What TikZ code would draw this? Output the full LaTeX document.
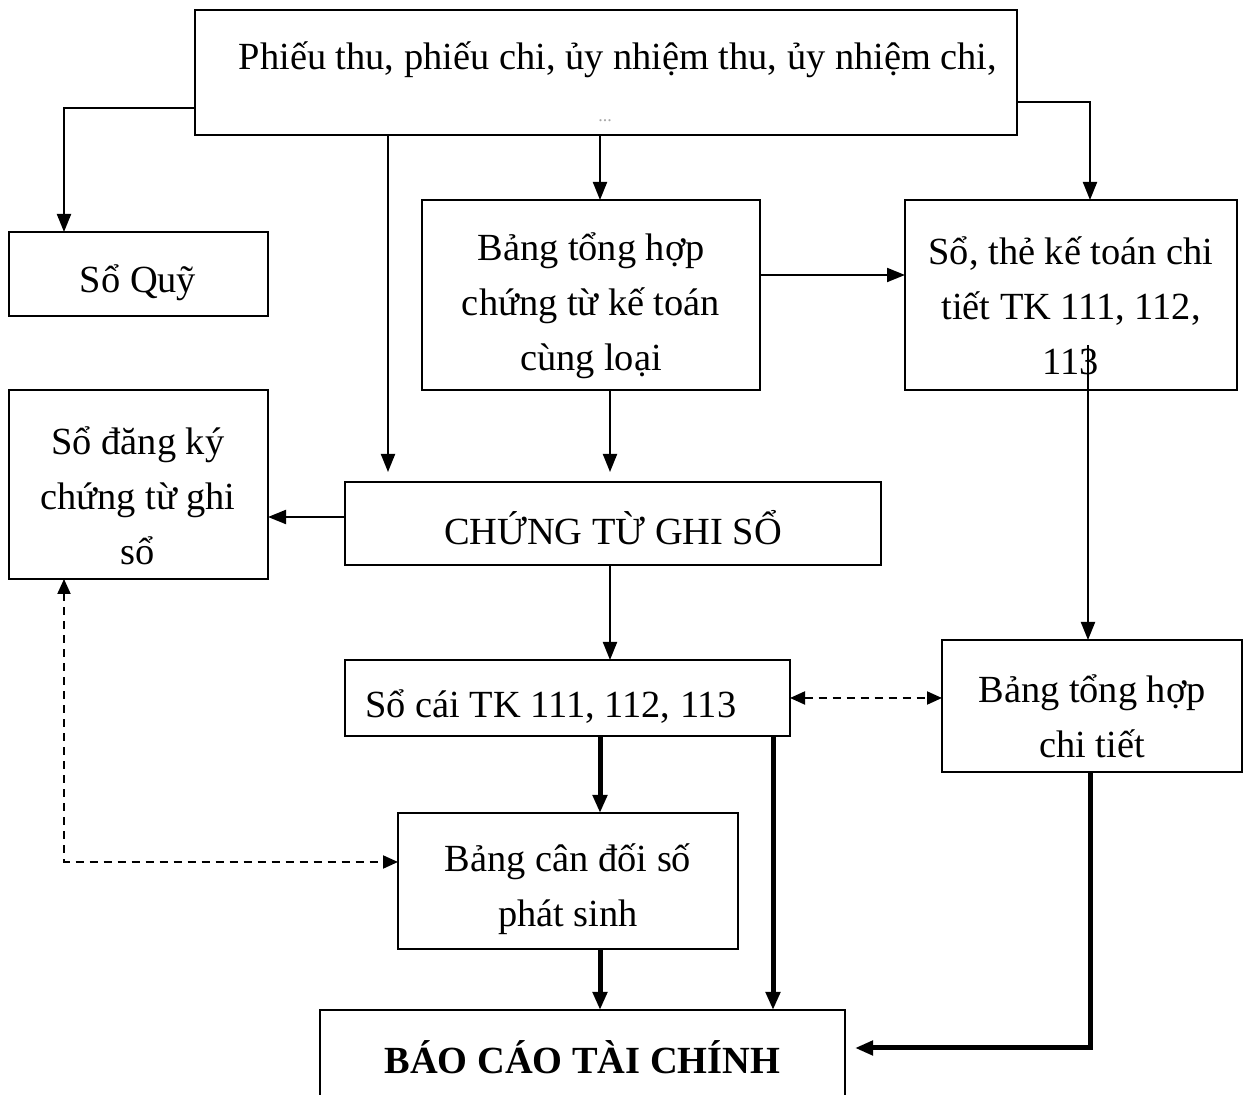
\documentclass[tikz,border=0pt]{standalone}
\usepackage{fontspec}
\setmainfont{Liberation Serif}
\usetikzlibrary{arrows.meta}
\begin{document}
\begin{tikzpicture}[x=0.5pt,y=-0.5pt,
  box/.style={draw, line width=1pt, inner sep=0pt, outer sep=0pt},
  txt/.style={font=\fontsize{19.2}{27.5}\selectfont, align=center, inner sep=0pt},
  arr/.style={line width=1pt, -{Triangle[length=9pt,width=7pt]}},
  barr/.style={line width=2.5pt, -{Triangle[length=9pt,width=7pt]}},
  darr/.style={line width=1pt, dash pattern=on 4pt off 3pt,
    {Triangle[length=7.5pt,width=6.5pt]}-{Triangle[length=7.5pt,width=6.5pt]}}
]
\path[use as bounding box, clip] (0,0) rectangle (1244,1095);

% boxes
\node[box, minimum width=411pt, minimum height=62.5pt] (top) at (606,72.5) {};
\node[box, minimum width=129.5pt, minimum height=42pt] (quy) at (138.5,274) {};
\node[box, minimum width=169pt, minimum height=95pt] (bth) at (591,295) {};
\node[box, minimum width=166pt, minimum height=95pt] (sthe) at (1071,295) {};
\node[box, minimum width=129.5pt, minimum height=94.5pt] (sdk) at (138.5,484.5) {};
\node[box, minimum width=268pt, minimum height=41.5pt] (ctgs) at (613,523.5) {};
\node[box, minimum width=222.5pt, minimum height=38pt] (scai) at (567.5,698) {};
\node[box, minimum width=150pt, minimum height=66pt] (bthct) at (1092,706) {};
\node[box, minimum width=170pt, minimum height=68pt] (bcd) at (568,881) {};
\node[box, minimum width=262.5pt, minimum height=55pt] (bctc) at (582.5,1065) {};

% texts
\node[txt] (ttop) at (618,60) {Phiếu thu, phiếu chi, ủy nhiệm thu, ủy nhiệm chi,};
\node[font=\fontsize{9}{9}\selectfont, text=black!35, inner sep=0pt] (dots) at (605,121) {...};
\node[txt] (tquy) at (138,283) {Sổ Quỹ};
\node[txt] (tbth) at (591,306) {Bảng tổng hợp\\chứng từ kế toán\\cùng loại};
\node[txt] (tsthe) at (1071,306) {Sổ, thẻ kế toán chi\\tiết TK 111, 112,\\113};
\node[txt] (tsdk) at (138,496) {Sổ đăng ký\\chứng từ ghi\\sổ};
\node[txt] (tctgs) at (613,528) {CHỨNG TỪ GHI SỔ};
\node[txt, anchor=west] (tscai) at (365,707) {Sổ cái TK 111, 112, 113};
\node[txt] (tbthct) at (1092,716) {Bảng tổng hợp\\chi tiết};
\node[txt] (tbcd) at (568,889) {Bảng cân đối số\\phát sinh};
\node[txt, font=\fontsize{19.2}{27.5}\selectfont\bfseries] (tbctc) at (582.5,1057) {BÁO CÁO TÀI CHÍNH};

% helper coordinates
\coordinate (L1) at (64,108);
\coordinate (R1) at (1090,102);
\coordinate (v388) at (388,0);
\coordinate (v600) at (600,0);
\coordinate (v610) at (610,0);
\coordinate (v773) at (773,0);
\coordinate (h275) at (0,275);
\coordinate (h517) at (0,517);
\coordinate (h698) at (0,698);
\coordinate (S9) at (1088,345);
\coordinate (D1) at (64,862);
\coordinate (B1) at (1090,1048);

% connectors
\draw[arr] (top.west |- L1) -- (L1) -- (L1 |- quy.north);
\draw[arr, shorten >=5pt] (v388 |- top.south) -- (v388 |- ctgs.north);
\draw[arr] (v600 |- top.south) -- (v600 |- bth.north);
\draw[arr] (top.east |- R1) -- (R1) -- (R1 |- sthe.north);
\draw[arr] (bth.east |- h275) -- (sthe.west |- h275);
\draw[arr, shorten >=5pt] (v610 |- bth.south) -- (v610 |- ctgs.north);
\draw[arr] (ctgs.west |- h517) -- (sdk.east |- h517);
\draw[arr] (v610 |- ctgs.south) -- (v610 |- scai.north);
\draw[arr] (S9) -- (S9 |- bthct.north);
\draw[darr] (scai.east |- h698) -- (bthct.west |- h698);
\draw[darr] (D1 |- sdk.south) -- (D1) -- (bcd.west |- D1);
\draw[barr] (v600 |- scai.south) -- (v600 |- bcd.north);
\draw[barr] (v600 |- bcd.south) -- (v600 |- bctc.north);
\draw[barr] (v773 |- scai.south) -- (v773 |- bctc.north);
\draw[barr, shorten >=5pt] (B1 |- bthct.south) -- (B1) -- (bctc.east |- B1);
\end{tikzpicture}
\end{document}
